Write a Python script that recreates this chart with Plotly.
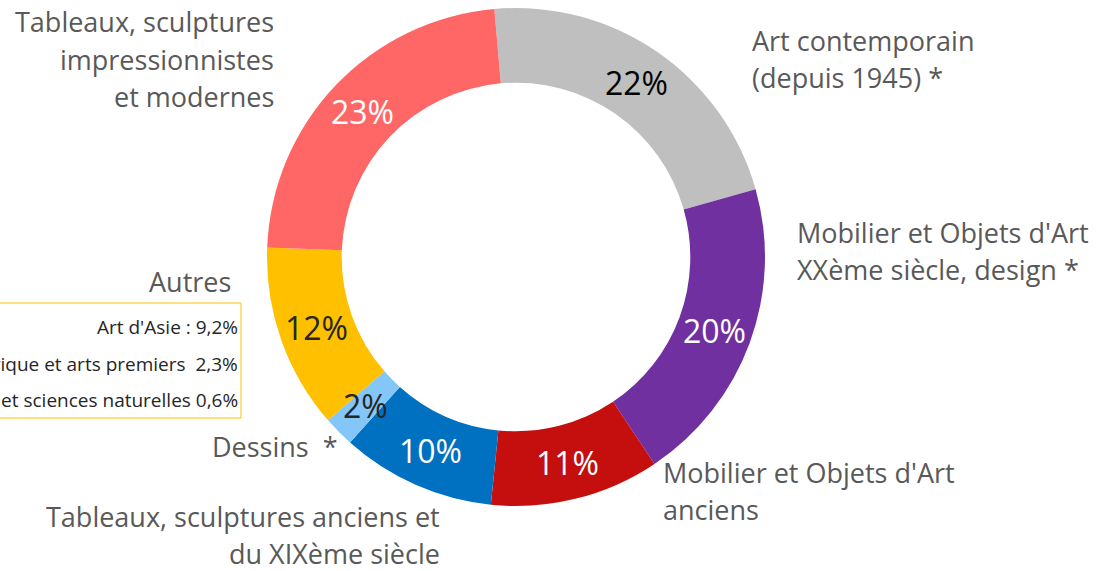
import numpy as np
import plotly.graph_objects as go

W, H = 1109, 571

categories = [
    "Art contemporain (depuis 1945) *",
    "Mobilier et Objets d'Art XXème siècle, design *",
    "Mobilier et Objets d'Art anciens",
    "Tableaux, sculptures anciens et du XIXème siècle",
    "Dessins *",
    "Autres",
    "Tableaux, sculptures impressionnistes et modernes",
]
values = [22, 20, 11, 10, 2, 12, 23]
colors = ["#BFBFBF", "#7030A0", "#C50E0E", "#0070C0", "#85C6F8", "#FFC000", "#FF6666"]
text_colors = ["#000000", "#FFFFFF", "#FFFFFF", "#FFFFFF", "#262626", "#262626", "#FFFFFF"]
pct_labels = [f"{v}%" for v in values]

autres_title = "Autres"
autres_detail = [
    "Art d'Asie : 9,2%",
    "Arts d'Afrique et arts premiers  2,3%",
    "Minéraux et sciences naturelles 0,6%",
]

FONT = "Open Sans"
GREY = "#595959"

# pie geometry (pixels)
cx, cy, R = 516, 257, 249
HOLE = 0.7
rotation = -5

fig = go.Figure(go.Pie(
    labels=categories,
    values=values,
    textinfo="none",
    marker=dict(colors=colors, line=dict(width=0)),
    hole=HOLE,
    sort=False,
    direction="clockwise",
    rotation=rotation,
    showlegend=False,
    hoverinfo="label+percent",
    domain=dict(x=[(cx - R) / W, (cx + R) / W],
                y=[max(0, (H - cy - R) / H), min(1, (H - cy + R) / H)]),
))

annotations = []

# percentage labels placed at the middle of each ring segment (computed from data)
vals = np.array(values, dtype=float)
frac = vals / vals.sum()
mids = rotation + (np.cumsum(frac) - frac / 2) * 360.0
rmid = R * (1 + HOLE) / 2
for i, m in enumerate(mids):
    th = np.deg2rad(m)
    x = cx + rmid * np.sin(th)
    y = cy - rmid * np.cos(th)
    annotations.append(dict(x=x / W, y=1 - y / H, xref="paper", yref="paper",
                            text=pct_labels[i], showarrow=False,
                            font=dict(family=FONT, size=32, color=text_colors[i]),
                            xanchor="center", yanchor="middle"))

def lab(x, y, text, anchor, size=27, color=GREY):
    annotations.append(dict(x=x / W, y=1 - y / H, xref="paper", yref="paper",
                            text=text, showarrow=False, align=anchor,
                            font=dict(family=FONT, size=size, color=color),
                            xanchor=anchor, yanchor="middle"))

# (anchor x, first line centre y, lines, alignment)
line_labels = [
    (274, 22, ["Tableaux, sculptures", "impressionnistes", "et modernes"], "right"),
    (752, 40, ["Art contemporain", "(depuis 1945) *"], "left"),
    (797, 232, ["Mobilier et Objets d'Art", "XXème siècle, design *"], "left"),
    (663, 472, ["Mobilier et Objets d'Art", "anciens"], "left"),
    (440, 516, ["Tableaux, sculptures anciens et", "du XIXème siècle"], "right"),
    (338, 446, ["Dessins  *"], "right"),
    (231, 281, [autres_title], "right"),
]
LS = 37
for x, y, lines, a in line_labels:
    dx = -2 if a == "left" else 2
    for k, t in enumerate(lines):
        lab(x + dx, y + k * LS, t, a)

for i, t in enumerate(autres_detail):
    lab(240, 327 + 36.5 * i, t, "right", size=19, color="#262626")

shapes = [dict(type="rect", xref="paper", yref="paper",
               x0=-0.02, x1=241 / W, y0=1 - 418 / H, y1=1 - 303 / H,
               line=dict(color="#FFC000", width=1), fillcolor="rgba(0,0,0,0)")]

fig.update_layout(
    width=W, height=H,
    margin=dict(l=0, r=0, t=0, b=0),
    paper_bgcolor="white", plot_bgcolor="white",
    annotations=annotations, shapes=shapes,
)

fig.write_html("out.html", config={"displayModeBar": False},
               post_script="document.body.style.margin='0';")
